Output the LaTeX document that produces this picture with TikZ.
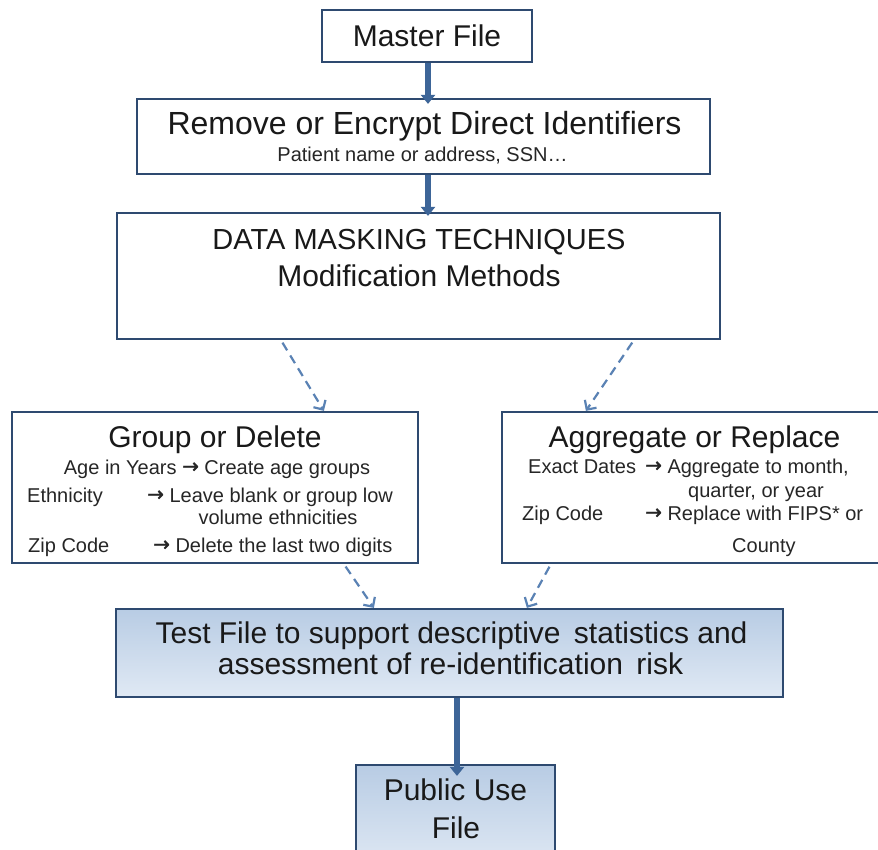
\documentclass[tikz,border=0pt]{standalone}
\usepackage{fontspec}
\setmainfont{Liberation Sans}
\newfontfamily\arrowglyphfont{DejaVu Sans}[FakeBold=1.5]
\newcommand{\maparrow}{{\arrowglyphfont\raisebox{0.05em}{→}}}
\usetikzlibrary{arrows.meta}

\definecolor{boxline}{HTML}{2E4A70}
\definecolor{flowblue}{HTML}{3D6598}
\definecolor{dashblue}{HTML}{5A82B4}
\definecolor{filltop}{HTML}{B8CCE4}
\definecolor{fillbot}{HTML}{E0E9F4}

\tikzset{
  box/.style={draw=boxline, line width=2.2pt, fill=white, inner sep=0pt},
  bluebox/.style={draw=boxline, line width=2.2pt, top color=filltop, bottom color=fillbot, inner sep=0pt},
  title/.style={font=\fontsize{30}{36}\selectfont, inner sep=0pt, text=black!90},
  detail/.style={font=\fontsize{20}{24}\selectfont, inner sep=0pt, text=black!85},
  flow/.style={draw=flowblue, line width=6pt, -{Triangle[length=9pt,width=14pt]}},
  maskflow/.style={draw=dashblue, line width=2.2pt, dash pattern=on 9pt off 6pt,
    shorten <=3pt, -{Straight Barb[length=7pt,width=14pt]}},
}

\begin{document}
\begin{tikzpicture}[x=1pt, y=-1pt]
  \useasboundingbox (0,0) rectangle (878,850);
  \fill[white] (0,0) rectangle (878,850);

  % boxes
  \node[box, minimum width=210pt, minimum height=52pt] (master) at (427,36) {};
  \node[box, minimum width=573pt, minimum height=75pt] (remove) at (423.5,136.5) {};
  \node[box, minimum width=603pt, minimum height=126pt] (data) at (418.5,276) {};
  \node[box, minimum width=406pt, minimum height=151pt] (group) at (215,487.5) {};
  \node[box, minimum width=380pt, minimum height=151pt] (agg) at (692,487.5) {};
  \node[bluebox, minimum width=667pt, minimum height=88pt] (test) at (449.5,653) {};
  \node[bluebox, minimum width=199pt, minimum height=105pt] (public) at (455.5,817.5) {};

  % box texts
  \node[title, anchor=base] (mastertxt) at (427,46.5) {Master File};

  \node[title, anchor=base, font=\fontsize{32}{38}\selectfont] (removetxt) at (424.5,135) {Remove or Encrypt Direct Identifiers};
  \node[detail, anchor=base] (removesub) at (422.5,162) {Patient name or address, SSN…};

  \node[title, anchor=base, font=\fontsize{29}{35}\selectfont] (datatxt) at (419,250) {DATA MASKING TECHNIQUES};
  \node[title, anchor=base] (datasub) at (419,287) {Modification Methods};

  \node[title, anchor=base] (grouptxt) at (215,447) {Group or Delete};
  \node[detail, anchor=base] (gage) at (217,474) {Age in Years \maparrow\ Create age groups};
  \node[detail, anchor=base west] (geth) at (27,502) {Ethnicity};
  \node[detail, anchor=base west] (gethto) at (147,502) {\maparrow\ Leave blank or group low};
  \node[detail, anchor=base] (gethto2) at (278,524) {volume ethnicities};
  \node[detail, anchor=base west] (gzip) at (28,552) {Zip Code};
  \node[detail, anchor=base west] (gzipto) at (153,552) {\maparrow\ Delete the last two digits};

  \node[title, anchor=base] (aggtxt) at (694.5,447) {Aggregate or Replace};
  \node[detail, anchor=base west] (adate) at (528,473) {Exact Dates};
  \node[detail, anchor=base west] (adateto) at (645,473) {\maparrow\ Aggregate to month,};
  \node[detail, anchor=base west] (adateto2) at (688,497) {quarter, or year};
  \node[detail, anchor=base west] (azip) at (522,520) {Zip Code};
  \node[detail, anchor=base west] (azipto) at (645,520) {\maparrow\ Replace with FIPS* or};
  \node[detail, anchor=base west] (azipto2) at (732,552) {County};

  \node[title, anchor=base] (testtxt) at (451.5,643) {Test File to support descriptive\, statistics and};
  \node[title, anchor=base] (testtxt2) at (450.5,674) {assessment of re-identification\, risk};

  \node[title, anchor=base] (publictxt) at (455.5,800) {Public Use};
  \node[title, anchor=base] (publictxt2) at (456,838) {File};

  % solid flow arrows
  \draw[flow, shorten >=-6pt] ([xshift=1pt]master.south) -- ([xshift=1pt]master.south |- remove.north);
  \draw[flow, shorten >=-4pt] ([xshift=1pt]master.south |- remove.south) -- ([xshift=1pt]master.south |- data.north);
  \draw[flow, shorten >=-12pt] ([xshift=1.5pt]public.north |- test.south) -- ([xshift=1.5pt]public.north);

  % dashed masking arrows
  \draw[maskflow] ([xshift=165pt]data.south west) -- ([xshift=313pt]group.north west);
  \draw[maskflow] ([xshift=518pt]data.south west) -- ([xshift=85pt]agg.north west);
  \draw[maskflow] ([xshift=333pt]group.south west) -- ([xshift=259pt]test.north west);
  \draw[maskflow] ([xshift=50pt]agg.south west) -- ([xshift=412pt]test.north west);
\end{tikzpicture}
\end{document}
